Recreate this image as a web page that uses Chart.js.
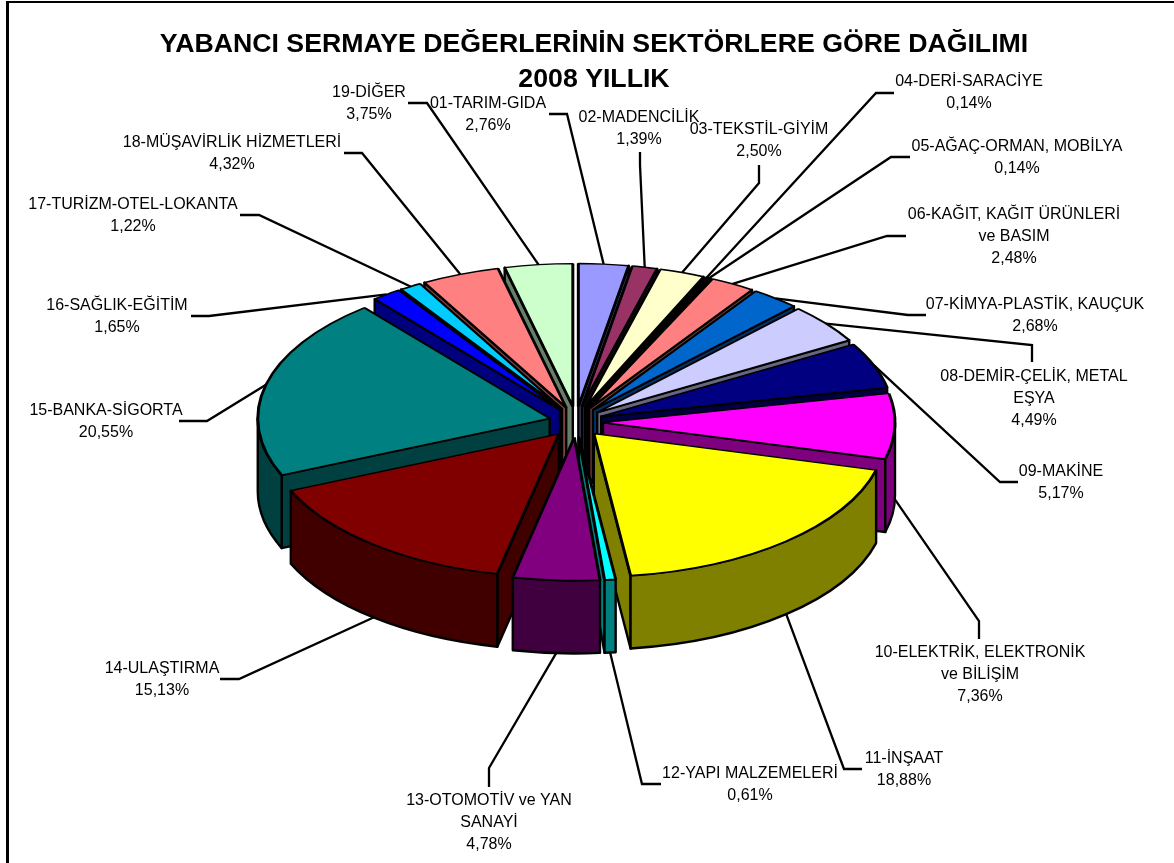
<!DOCTYPE html>
<html>
<head>
<meta charset="utf-8">
<title>Yabancı Sermaye</title>
<script src="https://cdn.jsdelivr.net/npm/chart.js@4"></script>
<style>
    html, body { margin: 0; padding: 0; background: #fff; overflow: hidden; width: 1174px; height: 863px; }
    #wrap { position: relative; width: 1174px; height: 863px; overflow: hidden; }
    #frame { position: absolute; left: 6px; top: 1px; width: 1200px; height: 900px; border-left: 3px solid #000; border-top: 2px solid #000; }
    canvas { position: absolute; left: 0; top: 0; }
</style>
</head>
<body>
<div id="wrap">
    <canvas id="pie" width="1188" height="863"></canvas>
    <div id="frame"></div>
</div>
<script>
const titleLines = ['YABANCI SERMAYE DEĞERLERİNİN SEKTÖRLERE GÖRE DAĞILIMI', '2008 YILLIK'];

const sectors = [
    ['01-TARIM-GIDA'],
    ['02-MADENCİLİK'],
    ['03-TEKSTİL-GİYİM'],
    ['04-DERİ-SARACİYE'],
    ['05-AĞAÇ-ORMAN, MOBİLYA'],
    ['06-KAĞIT, KAĞIT ÜRÜNLERİ', 've BASIM'],
    ['07-KİMYA-PLASTİK, KAUÇUK'],
    ['08-DEMİR-ÇELİK, METAL', 'EŞYA'],
    ['09-MAKİNE'],
    ['10-ELEKTRİK, ELEKTRONİK', 've BİLİŞİM'],
    ['11-İNŞAAT'],
    ['12-YAPI MALZEMELERİ'],
    ['13-OTOMOTİV ve YAN', 'SANAYİ'],
    ['14-ULAŞTIRMA'],
    ['15-BANKA-SİGORTA'],
    ['16-SAĞLIK-EĞİTİM'],
    ['17-TURİZM-OTEL-LOKANTA'],
    ['18-MÜŞAVİRLİK HİZMETLERİ'],
    ['19-DİĞER']
];

const shares = [2.76, 1.39, 2.50, 0.14, 0.14, 2.48, 2.68, 4.49, 5.17, 7.36, 18.88, 0.61, 4.78, 15.13, 20.55, 1.65, 1.22, 4.32, 3.75];

const colors = ['#9999FF', '#993366', '#FFFFCC', '#CCFFFF', '#660066', '#FF8080', '#0066CC', '#CCCCFF', '#000080', '#FF00FF',
    '#FFFF00', '#00FFFF', '#800080', '#800000', '#008080', '#0000FF', '#00CCFF', '#FF8080', '#CCFFCC'];

// label placement: text centre x, first line y, leader elbow x/y, leader end x/y
const labelSpots = [
    [488, 104, 567, 114, 549, 114],
    [639, 118, 640, 165, 640, 152],
    [759, 130, 759, 183, 759, 165],
    [969, 82, 876, 93, 894, 93],
    [1017, 147, 891, 157, 910, 157],
    [1014, 215, 887, 236, 906, 236],
    [1035, 305, 908, 315, 926, 315],
    [1034, 377, 1032, 345, 1032, 362],
    [1061, 472, 1000, 482, 1018, 482],
    [980, 653, 979, 621, 979, 639],
    [904, 759, 844, 769, 862, 769],
    [750, 774, 642, 784, 661, 784],
    [489, 801, 489, 768, 489, 787],
    [162, 669, 239, 679, 220, 679],
    [106, 411, 207, 421, 179, 421],
    [117, 306, 209, 316, 191, 316],
    [133, 205, 259, 215, 240, 215],
    [232, 143, 362, 153, 344, 153],
    [369, 93, 427, 103, 408, 103]
];

const pieRadius = 292;
const pieShiftX = -18;    // title sits right of the pie centre
const tilt = 0.49;        // ellipse height / width
const sideDepth = 73;
const explode = 27;
const explodeTilt = 0.57;

function halfShade(hex) {
    const n = parseInt(hex.slice(1), 16);
    const r = (n >> 16) >> 1, g = ((n >> 8) & 255) >> 1, b = (n & 255) >> 1;
    return `rgb(${r}, ${g}, ${b})`;
}

function slicePos(arc) {
    const mid = (arc.startAngle + arc.endAngle) / 2;
    return {
        mid: mid,
        x: arc.x + pieShiftX + Math.cos(mid) * explode,
        y: arc.y + Math.sin(mid) * explode * explodeTilt
    };
}

function rimPoint(pos, angle) {
    return [pos.x + Math.cos(angle) * pieRadius, pos.y + Math.sin(angle) * pieRadius * tilt];
}

function drawRadialFace(ctx, pos, angle, fill) {
    const rim = rimPoint(pos, angle);
    ctx.beginPath();
    ctx.moveTo(pos.x, pos.y);
    ctx.lineTo(rim[0], rim[1]);
    ctx.lineTo(rim[0], rim[1] + sideDepth);
    ctx.lineTo(pos.x, pos.y + sideDepth);
    ctx.closePath();
    ctx.fillStyle = fill;
    ctx.fill();
    ctx.stroke();
}

function drawSides(ctx, arc, fill) {
    const pos = slicePos(arc);
    ctx.lineWidth = 2.4;
    ctx.strokeStyle = '#000';
    ctx.lineJoin = 'round';

    if (Math.cos(arc.startAngle) < 0) drawRadialFace(ctx, pos, arc.startAngle, fill);
    if (Math.cos(arc.endAngle) > 0) drawRadialFace(ctx, pos, arc.endAngle, fill);

    // outer wall, only the part that faces the viewer
    let a0 = arc.startAngle, a1 = arc.endAngle;
    a0 = Math.max(a0, 0);
    a1 = Math.min(a1, Math.PI);
    if (a1 <= a0) return;
    ctx.beginPath();
    ctx.ellipse(pos.x, pos.y, pieRadius, pieRadius * tilt, 0, a0, a1);
    ctx.ellipse(pos.x, pos.y + sideDepth, pieRadius, pieRadius * tilt, 0, a1, a0, true);
    ctx.closePath();
    ctx.fillStyle = fill;
    ctx.fill();
    ctx.stroke();
}

function drawTop(ctx, arc) {
    const pos = slicePos(arc);
    ctx.save();
    ctx.translate(pos.x, pos.y);
    ctx.scale(1, tilt);
    ctx.translate(-arc.x, -arc.y);
    arc.draw(ctx);
    ctx.restore();
}

function drawLabel(ctx, arc, i) {
    const pos = slicePos(arc);
    const rim = rimPoint(pos, pos.mid);
    const spot = labelSpots[i];
    const startY = Math.sin(pos.mid) > 0 ? rim[1] + sideDepth : rim[1];

    ctx.beginPath();
    ctx.moveTo(rim[0], startY);
    ctx.lineTo(spot[2], spot[3]);
    ctx.lineTo(spot[4], spot[5]);
    ctx.lineWidth = 2.3;
    ctx.strokeStyle = '#000';
    ctx.lineJoin = 'miter';
    ctx.stroke();

    const lines = sectors[i].concat(shares[i].toFixed(2).replace('.', ',') + '%');
    ctx.fillStyle = '#000';
    ctx.font = '16px "Liberation Sans"';
    ctx.textAlign = 'center';
    ctx.textBaseline = 'middle';
    lines.forEach((line, n) => ctx.fillText(line, spot[0], spot[1] + n * 21.6));
}

// Chart.js only knows a flat pie, so the arcs are painted here with a tilt and a wall under them
const tiltedPie = {
    id: 'tiltedPie',
    beforeDatasetsDraw(chart) {
        const ctx = chart.ctx;
        const arcs = chart.getDatasetMeta(0).data;
        const backToFront = arcs.map((arc, i) => i)
            .sort((a, b) => slicePos(arcs[a]).y - slicePos(arcs[b]).y);

        ctx.save();
        backToFront.forEach(i => drawSides(ctx, arcs[i], halfShade(colors[i])));
        arcs.forEach(arc => drawTop(ctx, arc));
        arcs.forEach((arc, i) => drawLabel(ctx, arc, i));
        ctx.restore();
        return false;
    }
};

new Chart(document.getElementById('pie'), {
    type: 'pie',
    data: {
        labels: sectors.map(s => s.join(' ')),
        datasets: [{
            data: shares,
            backgroundColor: colors,
            borderColor: '#000',
            borderWidth: 3,
            radius: pieRadius
        }]
    },
    options: {
        responsive: false,
        animation: false,
        layout: { padding: { bottom: 116 } },
        plugins: {
            legend: { display: false },
            tooltip: { enabled: false },
            title: {
                display: true,
                text: titleLines,
                color: '#000',
                font: { family: '"Liberation Sans"', size: 26.7, weight: 'bold', lineHeight: 35 / 26.7 },
                padding: { top: 27, bottom: 0 }
            }
        }
    },
    plugins: [tiltedPie]
});
</script>
</body>
</html>
